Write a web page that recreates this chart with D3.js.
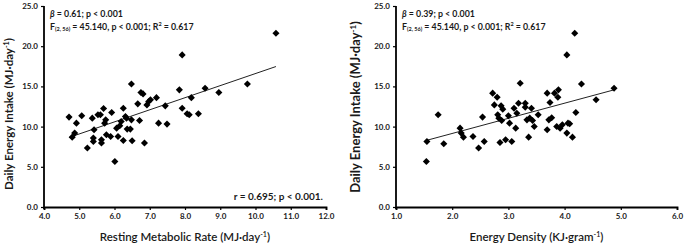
<!DOCTYPE html>
<html><head><meta charset="utf-8">
<script src="https://cdn.jsdelivr.net/npm/d3@7"></script>
<style>
html,body{margin:0;padding:0;background:#fff;}
svg{display:block;}
text{font-family:Lato,"Open Sans",sans-serif;fill:#1a1a1a;}
</style></head>
<body>
<svg id="chart" width="685" height="245"></svg>
<script>
// ---------- DATA ----------
const yTicks = [0, 5, 10, 15, 20, 25];
const xTicksLeft = [4, 5, 6, 7, 8, 9, 10, 11, 12];
const xTicksRight = [1, 2, 3, 4, 5, 6];

const rmrX = [4.71,4.80,4.87,4.92,5.07,5.23,5.37,5.42,5.40,5.40,5.53,5.60,5.63,5.63,5.69,5.72,5.75,5.77,5.89,5.92,6.01,6.06,6.10,6.15,6.19,6.25,6.25,6.31,6.34,6.36,6.45,6.48,6.48,6.50,6.66,6.71,6.75,6.81,6.85,6.92,6.97,7.02,7.19,7.25,7.44,7.49,7.84,7.92,7.92,8.06,8.12,8.18,8.38,8.57,8.96,9.77,10.58];
const rmrY = [11.18,8.69,9.19,10.43,11.34,7.33,11.05,9.60,8.57,8.15,11.47,11.47,7.95,8.36,12.25,10.43,10.84,8.98,8.77,11.75,5.67,9.81,8.77,10.10,10.64,12.29,8.28,11.26,11.05,9.69,9.69,10.84,15.30,8.24,12.83,10.76,14.24,14.07,7.95,12.70,13.12,13.33,13.60,10.43,12.58,10.31,14.57,18.92,12.29,11.59,11.47,13.60,11.59,14.78,14.24,15.30,21.60];
const rmrTrendX = [4.71, 10.58];
const rmrTrendY = [8.65, 17.47];

const edX = [1.54,1.55,1.75,1.85,2.14,2.16,2.20,2.37,2.54,2.57,2.47,2.72,2.75,2.80,2.81,2.83,2.85,2.87,2.90,2.88,2.95,3.00,3.02,3.06,3.10,3.13,3.15,3.18,3.21,3.30,3.30,3.33,3.36,3.38,3.41,3.43,3.46,3.53,3.69,3.69,3.72,3.74,3.77,3.82,3.86,3.88,3.89,3.92,3.96,4.04,4.04,4.06,4.09,4.14,4.18,4.20,4.30,4.56,4.88];
const edY = [5.67,8.15,11.47,7.86,9.81,9.19,8.69,8.77,11.18,8.15,7.33,14.16,12.70,13.66,11.47,11.05,8.03,12.58,12.17,10.76,8.36,11.34,10.43,8.15,12.29,9.81,11.67,12.91,15.40,12.91,12.42,10.84,8.69,11.05,12.29,10.76,10.02,11.47,14.16,9.60,10.84,13.00,11.09,14.16,10.02,13.66,14.57,9.81,10.22,9.19,18.92,10.43,10.35,8.69,21.60,11.75,15.30,13.33,14.78];
const edTrendX = [1.54, 4.88];
const edTrendY = [8.28, 14.57];

// ---------- DRAW ----------
const svg = d3.select("#chart");

function panel(cfg){
  const g = svg.append("g");
  const x = d3.scaleLinear().domain(cfg.xDomain).range(cfg.xRange);
  const y = d3.scaleLinear().domain([0,25]).range([207,6]);

  const xa = g.append("g").attr("transform",`translate(0,${y(0)})`)
    .call(d3.axisBottom(x).tickValues(cfg.xTicks).tickSize(3).tickPadding(3).tickFormat(d3.format(".1f")));
  const ya = g.append("g").attr("transform",`translate(${x(cfg.xDomain[0])},0)`)
    .call(d3.axisLeft(y).tickValues(yTicks).tickSize(3).tickPadding(3).tickFormat(d3.format(".1f")));
  [xa,ya].forEach(a=>{
    a.select(".domain").attr("stroke","#000").attr("stroke-width",1.8);
    a.selectAll(".tick line").attr("stroke","#000").attr("stroke-width",1.2);
    a.selectAll(".tick text").attr("font-size",8).attr("font-weight",700).attr("fill","#2a2a2a")
      .attr("font-family","Lato,sans-serif");
  });
  ya.select(".domain").attr("d",`M0,${y(25)}V${y(0)+2}`);

  const pts = cfg.tx.map((v,i)=>[v,cfg.ty[i]]);
  g.append("path").attr("d", d3.line().x(d=>x(d[0])).y(d=>y(d[1]))(pts))
    .attr("stroke","#222").attr("stroke-width",1).attr("fill","none");

  const sym = d3.symbol().type(d3.symbolSquare).size(25);
  g.selectAll("path.pt").data(cfg.px.map((v,i)=>[v,cfg.py[i]])).join("path")
    .attr("class","pt").attr("d",sym)
    .attr("transform",d=>`translate(${x(d[0])},${y(d[1])}) rotate(45)`)
    .attr("fill","#000");

  const ax = x(cfg.xDomain[0]) + 6;
  const t1 = g.append("text").attr("x",ax).attr("y",17).attr("font-size",8.8).attr("font-weight",700);
  t1.append("tspan").attr("font-style","italic").text("β");
  t1.append("tspan").text(cfg.beta);
  const t2 = g.append("text").attr("x",ax).attr("y",29.5).attr("font-size",8.8).attr("font-weight",700);
  t2.append("tspan").text("F");
  t2.append("tspan").attr("font-size",5.5).attr("dy",1.5).text("(2, 56)");
  t2.append("tspan").attr("dy",-1.5).text(" = 45.140, p < 0.001; R");
  t2.append("tspan").attr("font-size",5.5).attr("dy",-3.2).text("2");
  t2.append("tspan").attr("dy",3.2).text(" = 0.617");

  const xt = g.append("text").attr("x",(cfg.xRange[0]+cfg.xRange[1])/2).attr("y",241)
    .attr("text-anchor","middle").attr("font-size",cfg.xTitleSize).attr("font-weight",600).attr("fill","#333");
  xt.append("tspan").text(cfg.xTitle);
  xt.append("tspan").attr("font-size",cfg.xTitleSize*0.62).attr("dy",-4).text("-1");
  xt.append("tspan").attr("dy",4).text(")");

  const yt = g.append("text").attr("transform",`translate(${cfg.yTitleX},${cfg.yTitleY}) rotate(-90)`)
    .attr("text-anchor","middle").attr("font-size",cfg.yTitleSize).attr("font-weight",700).attr("fill","#333");
  yt.append("tspan").text("Daily Energy Intake (MJ·day");
  yt.append("tspan").attr("font-size",cfg.yTitleSize*0.62).attr("dy",-4).text("-1");
  yt.append("tspan").attr("dy",4).text(")");
  return {g,x,y};
}

const L = panel({xDomain:[4,12], xRange:[44,326], xTicks:xTicksLeft, px:rmrX, py:rmrY, tx:rmrTrendX, ty:rmrTrendY,
  beta:" = 0.61; p < 0.001", xTitle:"Resting Metabolic Rate (MJ·day", xTitleSize:11.5,
  yTitleX:13, yTitleY:114, yTitleSize:11.5});
L.g.append("text").attr("x",323).attr("y",200).attr("text-anchor","end").attr("font-size",10).attr("font-weight",700)
  .text("r = 0.695; p < 0.001.");

panel({xDomain:[1,6], xRange:[396,677], xTicks:xTicksRight, px:edX, py:edY, tx:edTrendX, ty:edTrendY,
  beta:" = 0.39; p < 0.001", xTitle:"Energy Density (KJ·gram", xTitleSize:11.5,
  yTitleX:360, yTitleY:107, yTitleSize:13});
</script>
</body></html>
